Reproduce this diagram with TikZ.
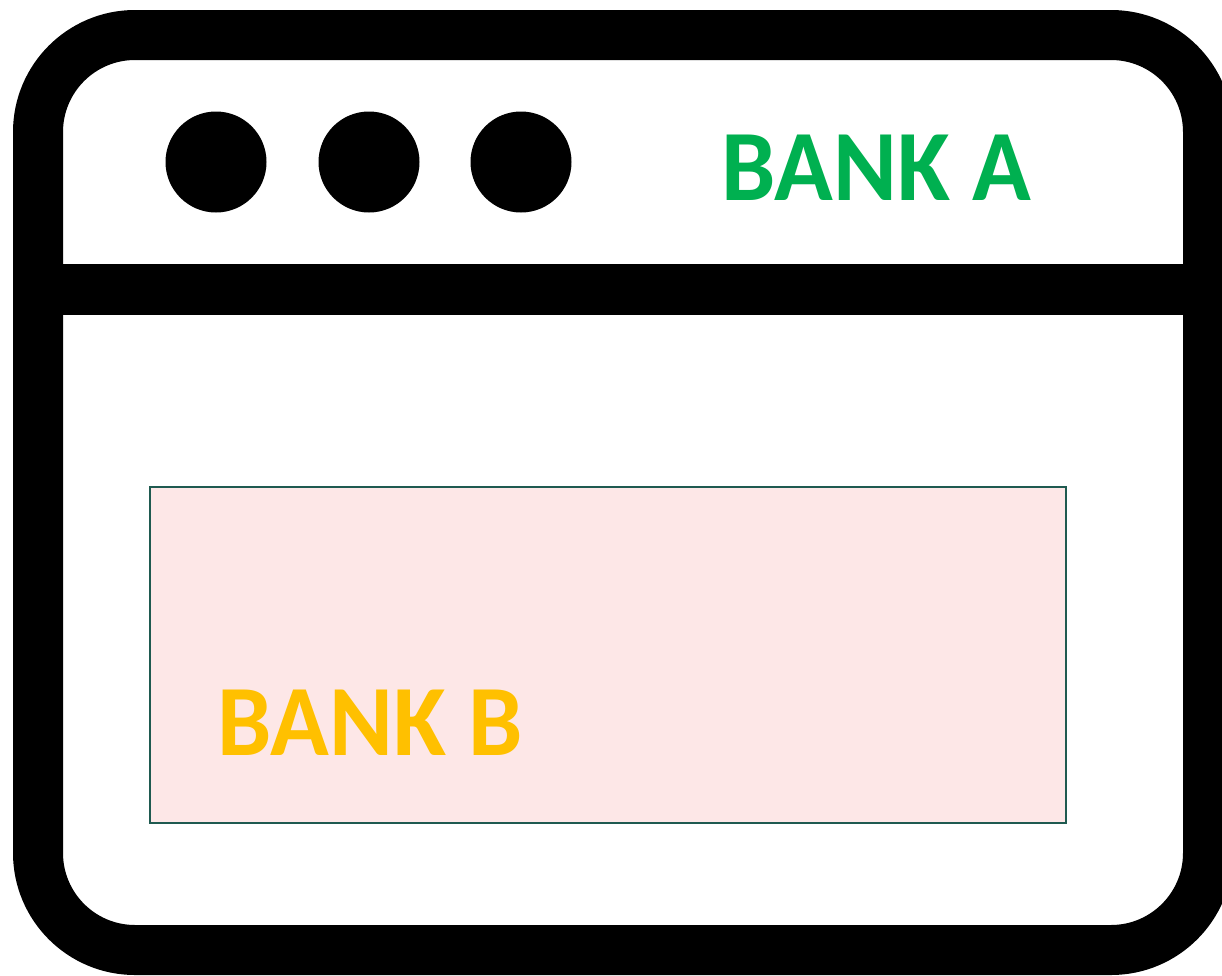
\documentclass[tikz,border=0pt]{standalone}
\usepackage{fontspec}
\setmainfont{Carlito}[FakeStretch=0.96]
\definecolor{bankgreen}{HTML}{00B050}
\definecolor{bankyellow}{HTML}{FFC000}
\definecolor{panelfill}{HTML}{FDE7E7}
\definecolor{panelline}{HTML}{1F5A50}
\begin{document}
\begin{tikzpicture}[x=1pt,y=-1pt,
  frame/.style={line width=50pt, draw=black, rounded corners=97pt},
  dot/.style={circle, fill=black, minimum size=101pt, inner sep=0pt},
  panel/.style={draw=panelline, line width=2.5pt, fill=panelfill},
  banklabel/.style={font=\bfseries\fontsize{101}{101}\selectfont, inner sep=0pt, anchor=base west}]
\useasboundingbox (0,0) rectangle (1222,975);
\fill[white] (0,0) rectangle (1222,975);
\begin{scope}
\clip (0,0) rectangle (1222,975);
\draw[frame] (38,35) rectangle (1208,950);
\draw[line width=51pt] (38,289.5) -- (1208,289.5);
\end{scope}
\node[dot] (d1) at (216,162) {};
\node[dot] (d2) at (369,162) {};
\node[dot] (d3) at (521,162) {};
\node[banklabel, text=bankgreen] (bankA) at (721,200) {BANK A};
\draw[panel] (150,487) rectangle (1066,823);
\node[banklabel, text=bankyellow] (bankB) at (217,755) {BANK B};
\end{tikzpicture}
\end{document}
